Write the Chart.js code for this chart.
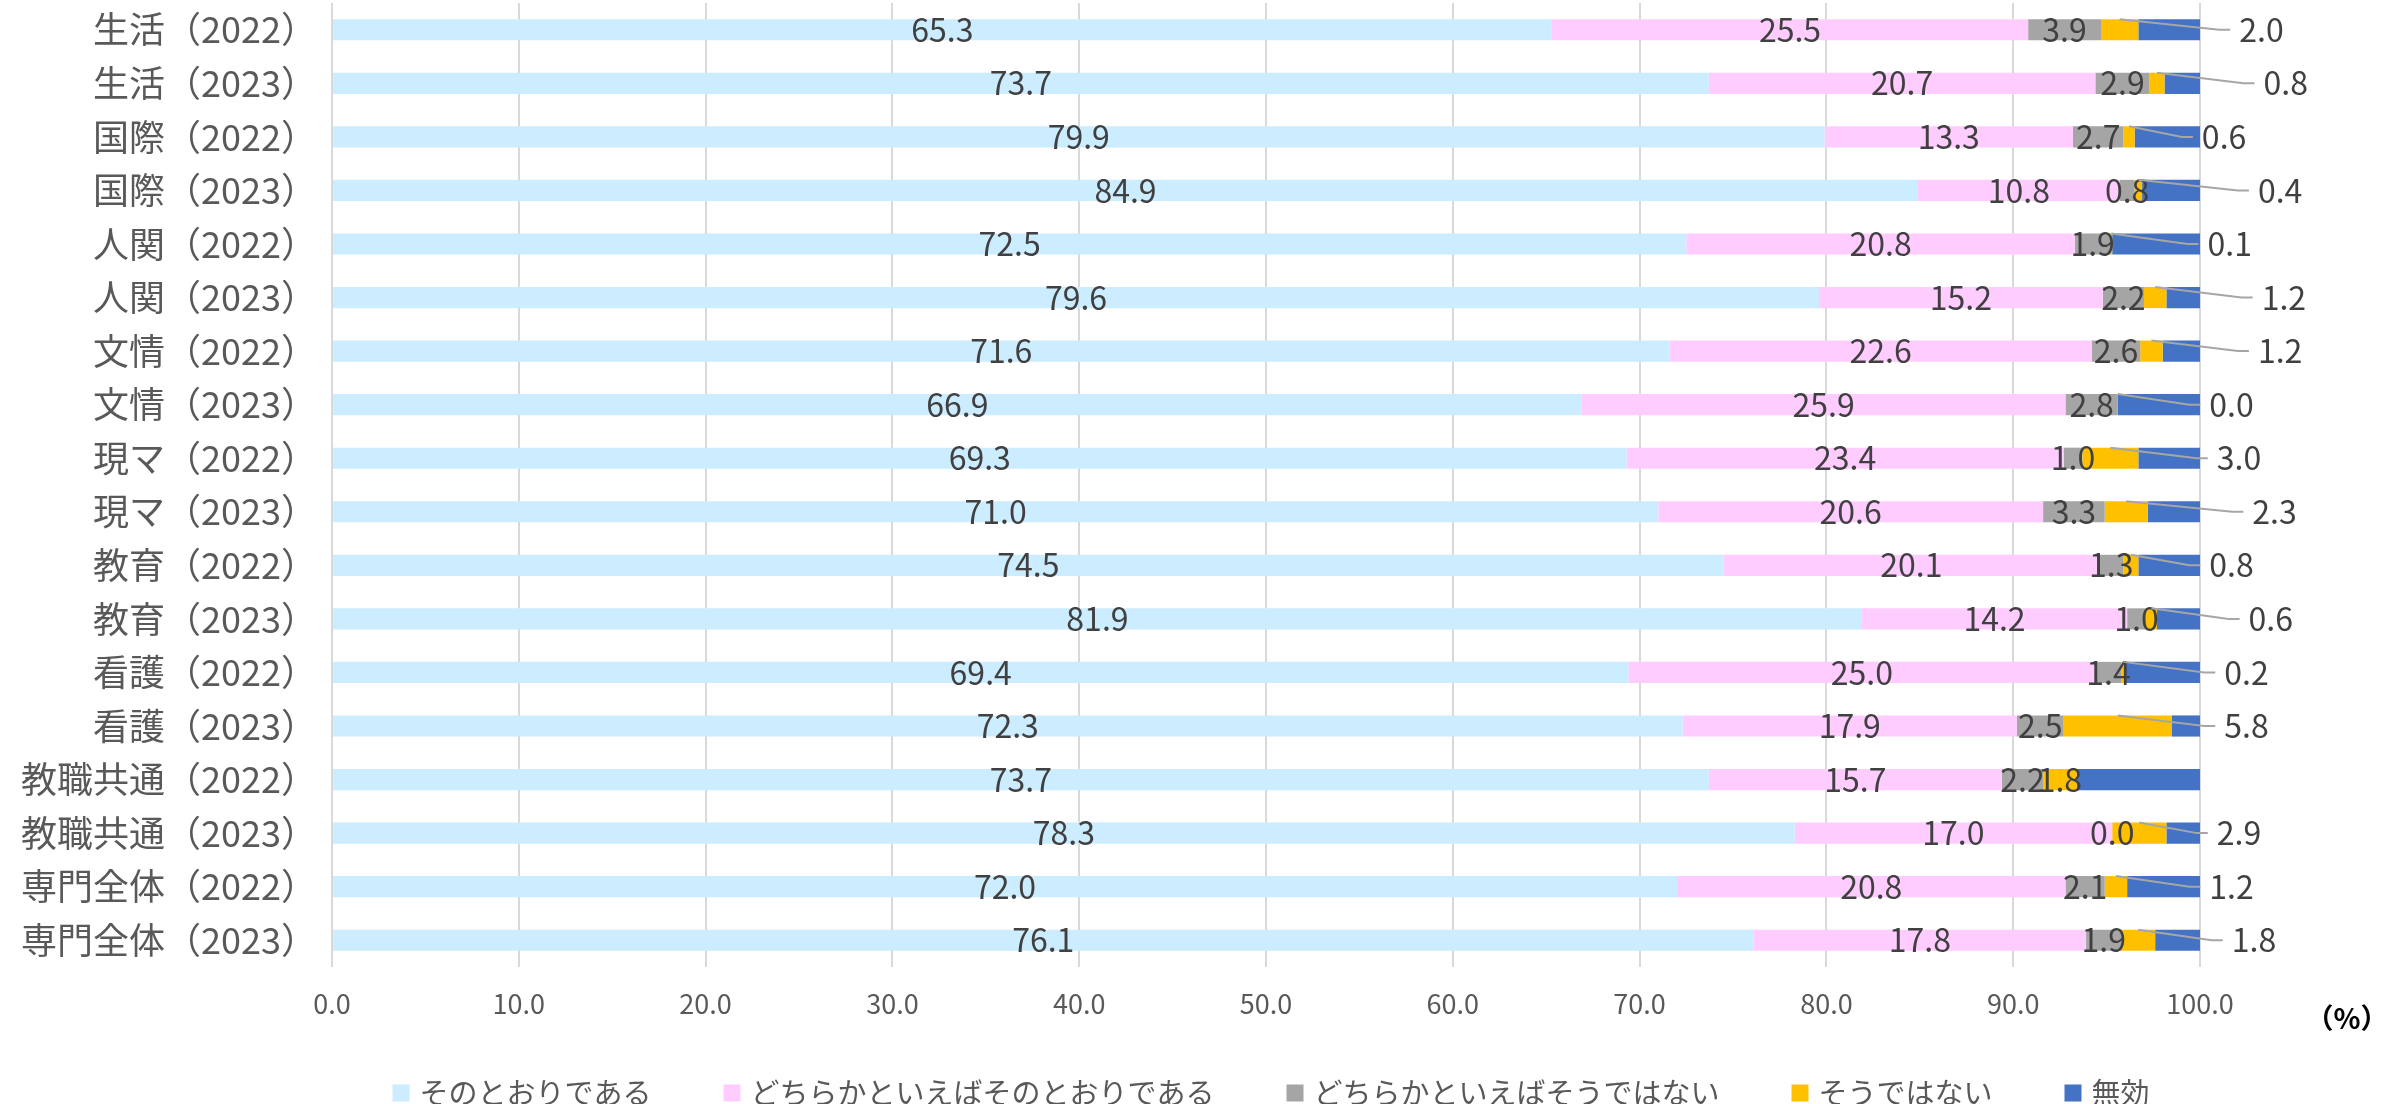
<!DOCTYPE html>
<html lang="ja">
<head>
<meta charset="utf-8">
<title>Chart</title>
<script src="https://cdn.jsdelivr.net/npm/chart.js@4.4.1/dist/chart.umd.min.js"></script>
<style>
  html, body { margin: 0; padding: 0; background: #ffffff; }
  #wrap { width: 2402px; height: 1104px; }
</style>
</head>
<body>
<div id="wrap"><canvas id="c" width="2402" height="1104"></canvas></div>
<script>
// ---- data ----
const categories = [
  '生活（2022）', '生活（2023）', '国際（2022）', '国際（2023）',
  '人関（2022）', '人関（2023）', '文情（2022）', '文情（2023）',
  '現マ（2022）', '現マ（2023）', '教育（2022）', '教育（2023）',
  '看護（2022）', '看護（2023）', '教職共通（2022）', '教職共通（2023）',
  '専門全体（2022）', '専門全体（2023）'
];
const seriesNames = ['そのとおりである', 'どちらかといえばそのとおりである', 'どちらかといえばそうではない', 'そうではない', '無効'];
const agree      = [65.3, 73.7, 79.9, 84.9, 72.5, 79.6, 71.6, 66.9, 69.3, 71.0, 74.5, 81.9, 69.4, 72.3, 73.7, 78.3, 72.0, 76.1];
const ratherAgree= [25.5, 20.7, 13.3, 10.8, 20.8, 15.2, 22.6, 25.9, 23.4, 20.6, 20.1, 14.2, 25.0, 17.9, 15.7, 17.0, 20.8, 17.8];
const ratherNot  = [3.9, 2.9, 2.7, 0.8, 1.9, 2.2, 2.6, 2.8, 1.0, 3.3, 1.3, 1.0, 1.4, 2.5, 2.2, 0.0, 2.1, 1.9];
const notAgree   = [2.0, 0.8, 0.6, 0.4, 0.1, 1.2, 1.2, 0.0, 3.0, 2.3, 0.8, 0.6, 0.2, 5.8, 1.8, 2.9, 1.2, 1.8];
const invalid    = [3.3, 1.9, 3.5, 3.1, 4.7, 1.8, 2.0, 4.4, 3.3, 2.8, 3.3, 2.3, 4.0, 1.5, 6.6, 1.8, 3.9, 2.4];
const xTicks = [0, 10, 20, 30, 40, 50, 60, 70, 80, 90, 100];

// placement of the "そうではない" callout labels (axis value where the text starts; null = inside bar)
const calloutAt = [102.1, 103.4, 100.1, 103.1, 100.4, 103.3, 103.1, 100.5, 100.9, 102.8, 100.5, 102.6, 101.3, 101.3, null, 100.9, 100.5, 101.7];

const colors = ['#CCECFF', '#FFCCFF', '#A5A5A5', '#FFC000', '#4472C4'];
const FONT = '"Noto Sans CJK JP", "Noto Sans", sans-serif';

const seriesValues = [agree, ratherAgree, ratherNot, notAgree, invalid];

const valueLabels = {
  id: 'valueLabels',
  afterDatasetsDraw(chart) {
    const ctx = chart.ctx;
    const xs = chart.scales.x;
    ctx.save();
    ctx.font = '32px ' + FONT;
    ctx.fillStyle = '#404040';
    ctx.textBaseline = 'middle';
    chart.data.datasets.forEach((ds, di) => {
      if (di > 3) return;
      const meta = chart.getDatasetMeta(di);
      meta.data.forEach((bar, i) => {
        const v = ds.data[i];
        const p = bar.getProps(['x', 'y', 'base', 'height'], true);
        const cx = (p.x + p.base) / 2;
        if (di < 3 || calloutAt[i] === null) {
          ctx.textAlign = 'center';
          ctx.fillText(v.toFixed(1), cx, p.y);
        } else {
          const lx = xs.getPixelForValue(calloutAt[i]);
          ctx.strokeStyle = '#A6A6A6';
          ctx.lineWidth = 2;
          ctx.beginPath();
          ctx.moveTo(cx, p.y - p.height / 2);
          ctx.lineTo(lx - 20, p.y);
          ctx.lineTo(lx - 9, p.y);
          ctx.stroke();
          ctx.textAlign = 'left';
          ctx.fillText(v.toFixed(1), lx, p.y);
        }
      });
    });
    ctx.restore();
  }
};

const legendAndUnit = {
  id: 'legendAndUnit',
  afterDraw(chart) {
    const ctx = chart.ctx;
    const area = chart.chartArea;
    ctx.save();
    // unit
    ctx.font = 'bold 28px ' + FONT;
    ctx.fillStyle = '#000000';
    ctx.textAlign = 'center';
    ctx.textBaseline = 'middle';
    ctx.fillText('（%）', area.right + 147, 1018);
    // legend
    ctx.font = '29px ' + FONT;
    const box = 17, gap = 10, spacing = 72;
    const items = chart.data.datasets.map(ds => ({ text: ds.label, color: ds.backgroundColor }));
    const widths = items.map(it => ctx.measureText(it.text).width);
    let total = 0;
    widths.forEach((w, i) => { total += box + gap + w + (i < widths.length - 1 ? spacing : 0); });
    let x = (area.left + area.right) / 2 + 5 - total / 2;
    const y = 1093;
    ctx.textAlign = 'left';
    items.forEach((it, i) => {
      ctx.fillStyle = it.color;
      ctx.fillRect(x, y - box / 2, box, box);
      ctx.fillStyle = '#595959';
      ctx.fillText(it.text, x + box + gap, y);
      x += box + gap + widths[i] + spacing;
    });
    ctx.restore();
  }
};

new Chart(document.getElementById('c'), {
  type: 'bar',
  data: {
    labels: categories,
    datasets: seriesNames.map((name, i) => ({
      label: name,
      data: seriesValues[i],
      backgroundColor: colors[i],
      borderWidth: 0,
      categoryPercentage: 1.0,
      barPercentage: 0.395
    }))
  },
  options: {
    indexAxis: 'y',
    responsive: false,
    animation: false,
    devicePixelRatio: 1,
    layout: { padding: { top: 3, left: 0, right: 202, bottom: 0 } },
    plugins: {
      legend: { display: false },
      tooltip: { enabled: false },
      title: { display: false }
    },
    scales: {
      x: {
        stacked: true,
        min: 0,
        max: 100,
        afterBuildTicks: (s) => { s.ticks = xTicks.map(v => ({ value: v })); },
        ticks: {
          callback: (v) => Number(v).toFixed(1),
          font: { family: FONT, size: 27 },
          color: '#595959',
          padding: 21,
          maxRotation: 0
        },
        grid: { color: '#D9D9D9', lineWidth: 2, drawTicks: false },
        border: { display: false },
        afterFit: (s) => { s.height = 137; }
      },
      y: {
        stacked: true,
        ticks: {
          font: { family: FONT, size: 36 },
          color: '#595959',
          padding: 15,
          autoSkip: false
        },
        grid: { display: false, drawTicks: false },
        border: { display: false },
        afterFit: (s) => { s.width = 332; s.paddingTop = 0; s.paddingBottom = 0; }
      }
    }
  },
  plugins: [valueLabels, legendAndUnit]
});
</script>
</body>
</html>
